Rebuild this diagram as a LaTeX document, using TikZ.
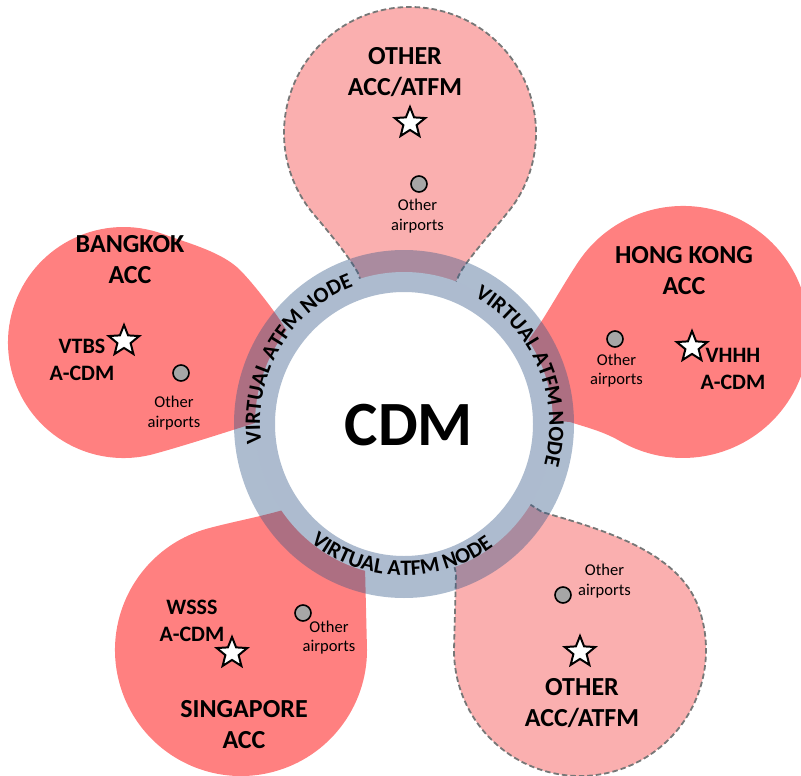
\documentclass[tikz,border=0pt]{standalone}
\usepackage{fontspec}
\setmainfont{Carlito}
\usetikzlibrary{shapes.geometric,decorations.text}
\definecolor{petalred}{HTML}{FF8080}
\definecolor{petallight}{HTML}{FAAFAF}
\definecolor{ringblue}{RGB}{50,87,135}
\definecolor{dashgray}{HTML}{777777}
\definecolor{dotgray}{HTML}{A6A6A6}
\newcommand\ringfont{\bfseries\fontsize{22}{26}\selectfont}
\begin{document}
\begin{tikzpicture}[x=1pt,y=-1pt,
  petal/.style={fill=petalred},
  lightpetal/.style={fill=petallight, draw=dashgray, line width=1.8pt, dash pattern=on 5.5pt off 3pt},
  title/.style={font=\bfseries\fontsize{26}{31}\selectfont, align=center, inner sep=0},
  code/.style={font=\bfseries\fontsize{22}{27}\selectfont, align=center, inner sep=0},
  other/.style={font=\fontsize{16.5}{19.5}\selectfont, align=center, inner sep=0},
  apt/.style={star, star points=5, star point ratio=2.3, minimum size=32pt, inner sep=0, draw=black, line width=2pt, fill=white},
  dot/.style={circle, minimum size=16pt, inner sep=0, draw=black, line width=1.6pt, fill=dotgray},
  ringtext/.style={decorate, decoration={text along path, text align=center, text={|\ringfont|VIRTUAL ATFM NODE}}}]
\useasboundingbox (0,0) rectangle (801,776);

% petals
\path[petal] (295,340) -- (285,328) .. controls (277.5,315) and (254,284) .. (240,270)
  .. controls (222.5,252.5) and (191,244) .. (163,234)
  arc[start angle=-70, end angle=-285, radius=115.5]
  .. controls (182.4,446.3) and (226.5,432) .. (255,423) -- (270,420) -- cycle;
\path[petal] (525,345) -- (537,328) .. controls (545.7,315.9) and (568.3,276.1) .. (579.8,259.7)
  arc[start angle=-145, end angle=120, radius=126]
  .. controls (602.7,431) and (584.3,426.8) .. (570,422) -- (545,420) -- cycle;
\path[petal] (292,500) -- (283,510) .. controls (259,517) and (232.6,521.8) .. (208.4,528.3)
  arc[start angle=-105, end angle=-360, radius=126] -- (365,567) -- (368,555) -- cycle;
\path[lightpetal] (364,290) -- (358,273) .. controls (348.4,255.4) and (326.4,229.3) .. (313.5,214)
  arc[start angle=140, end angle=395, radius=126]
  .. controls (501.5,221.4) and (469.8,255.6) .. (460,273) -- (452,290) -- cycle;
\path[lightpetal] (450,550) -- (456,573) -- (454,650)
  arc[start angle=180, end angle=-20, radius=126]
  .. controls (677.9,550.5) and (599.6,528.8) .. (542,512) -- (520,498) -- cycle;

% ring
\begin{scope}[shift={(404,424)}, y=1pt]
  \fill[white] (0,0) ellipse[x radius=149, y radius=152];
  \fill[ringblue, fill opacity=0.4, even odd rule] (0,0) ellipse[x radius=170, y radius=174]
    (0,0) ellipse[x radius=129, y radius=132];
  \path[ringtext] (199:144) arc[start angle=199, end angle=99, x radius=143, y radius=146];
  \path[ringtext] (73:146) arc[start angle=73, end angle=-27, x radius=145, y radius=148];
  \path[ringtext] (219:151) arc[start angle=219, end angle=319, x radius=151, y radius=152];
  \node[font=\bfseries\fontsize{63}{70}\selectfont, inner sep=0] (cdm) at (5,-1) {CDM};
\end{scope}

% top petal
\node[title] (topt) at (405,72.5) {OTHER\\ACC/ATFM};
\node[apt] (tops) at (410,123) {};
\node[dot] (topd) at (419,184) {};
\node[other] (topo) at (417.5,216) {Other\\airports};

% Bangkok
\node[title] (bkkt) at (130,260) {BANGKOK\\ACC};
\node[apt] (bkks) at (124,341) {};
\node[code] (bkkc) at (82,359.5) {VTBS\\A-CDM};
\node[dot] (bkkd) at (181,373) {};
\node[other] (bkko) at (174,413) {Other\\airports};

% Hong Kong
\node[title] (hkgt) at (684,271) {HONG KONG\\ACC};
\node[dot] (hkgd) at (615,339) {};
\node[other] (hkgo) at (616.5,370.5) {Other\\airports};
\node[apt] (hkgs) at (692,347) {};
\node[code] (hkgc) at (733,369) {VHHH\\A-CDM};

% Singapore
\node[code] (sinc) at (192,621) {WSSS\\A-CDM};
\node[apt] (sins) at (232,653) {};
\node[dot] (sind) at (303,613) {};
\node[other] (sino) at (329,637.5) {Other\\airports};
\node[title] (sint) at (244,725) {SINGAPORE\\ACC};

% bottom-right petal
\node[other] (bro) at (604.5,581) {Other\\airports};
\node[dot] (brd) at (563,595) {};
\node[apt] (brs) at (580,652) {};
\node[title] (brt) at (582,703) {OTHER\\ACC/ATFM};
\end{tikzpicture}
\end{document}
